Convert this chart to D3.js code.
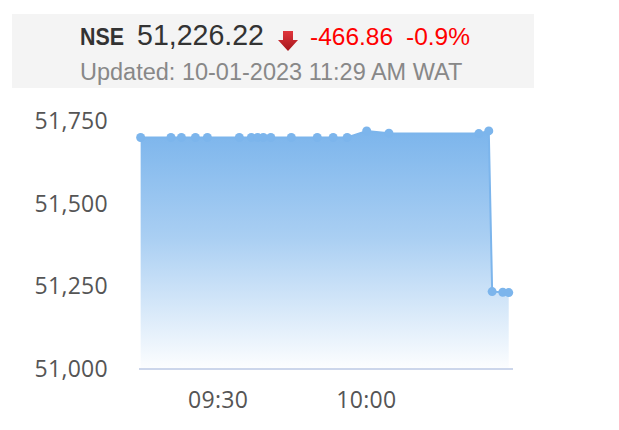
<!DOCTYPE html>
<html>
<head>
<meta charset="utf-8">
<script src="https://cdn.jsdelivr.net/npm/d3@7"></script>
<style>
  body { margin: 0; background: #fff; }
  svg { display: block; }
</style>
</head>
<body>
<div id="chart"></div>
<script>
// intraday NSE values
const times = ["09:14:20", "09:20:28", "09:22:35", "09:25:25", "09:27:50", "09:34:18", "09:36:44",
    "09:38:00", "09:39:09", "09:40:40", "09:44:49", "09:50:04", "09:53:17", "09:56:07",
    "10:00:04", "10:04:34", "10:22:45", "10:24:46", "10:25:27", "10:27:36", "10:28:48"];
const values = [51700, 51700, 51700, 51700, 51700, 51700, 51700,
    51700, 51700, 51700, 51700, 51700, 51700, 51700,
    51720, 51713, 51712, 51720, 51234, 51232, 51231];
const yTicks = [51000, 51250, 51500, 51750];
const xTicks = ["09:30", "10:00"];

const header = {name: "NSE", price: "51,226.22", change: "-466.86", pct: "-0.9%",
    updated: "Updated: 10-01-2023 11:29 AM WAT"};

const width = 619, height = 430;
const parseTime = d3.timeParse("%H:%M:%S");
const parseTick = d3.timeParse("%H:%M");

const data = times.map((t, i) => ({time: parseTime(t), value: values[i]}));

const svg = d3.select("#chart").append("svg")
    .attr("width", width)
    .attr("height", height);

// header panel
svg.append("rect")
    .attr("x", 12).attr("y", 14)
    .attr("width", 522).attr("height", 74)
    .attr("fill", "#f4f4f4");

svg.append("text")
    .attr("x", 80).attr("y", 45)
    .attr("font-family", "Liberation Sans, Arial, sans-serif")
    .attr("font-size", 24).attr("font-weight", "bold")
    .attr("textLength", 44)
    .attr("lengthAdjust", "spacingAndGlyphs")
    .attr("fill", "#333")
    .text(header.name);
svg.append("text")
    .attr("x", 137).attr("y", 45)
    .attr("font-family", "Liberation Sans, Arial, sans-serif")
    .attr("font-size", 29)
    .attr("textLength", 127)
    .attr("lengthAdjust", "spacingAndGlyphs")
    .attr("fill", "#333")
    .text(header.price);

// red down arrow
let grad = svg.append("defs").append("linearGradient")
    .attr("id", "arrowGrad").attr("x1", 0).attr("y1", 0).attr("x2", 0).attr("y2", 1);
grad.append("stop").attr("offset", "0%").attr("stop-color", "#e0363c");
grad.append("stop").attr("offset", "100%").attr("stop-color", "#a5161c");
svg.append("path")
    .attr("d", "M283,31 L293,31 L293,40 L298,40 L288,51 L278,40 L283,40 Z")
    .attr("fill", "url(#arrowGrad)");

svg.append("text")
    .attr("x", 310).attr("y", 45)
    .attr("font-family", "Liberation Sans, Arial, sans-serif")
    .attr("font-size", 24.5)
    .attr("fill", "#f00")
    .text(header.change);
svg.append("text")
    .attr("x", 406).attr("y", 45)
    .attr("font-family", "Liberation Sans, Arial, sans-serif")
    .attr("font-size", 24.5)
    .attr("fill", "#f00")
    .text(header.pct);
svg.append("text")
    .attr("x", 80).attr("y", 80)
    .attr("font-family", "Liberation Sans, Arial, sans-serif")
    .attr("font-size", 23.5)
    .attr("fill", "#888")
    .text(header.updated);

// scales
const x = d3.scaleTime()
    .domain([parseTime("09:14:00"), parseTime("10:29:40")])
    .range([139, 513]);
const y = d3.scaleLinear()
    .domain([51000, 51750])
    .range([369, 121]);

// area gradient
let areaGrad = svg.select("defs").append("linearGradient")
    .attr("id", "areaGrad").attr("x1", 0).attr("y1", 0).attr("x2", 0).attr("y2", 1);
areaGrad.append("stop").attr("offset", "0%").attr("stop-color", "#7cb5ec").attr("stop-opacity", 1);
areaGrad.append("stop").attr("offset", "45%").attr("stop-color", "#7cb5ec").attr("stop-opacity", 0.65);
areaGrad.append("stop").attr("offset", "100%").attr("stop-color", "#7cb5ec").attr("stop-opacity", 0.02);

svg.append("path")
    .datum(data)
    .attr("fill", "url(#areaGrad)")
    .attr("d", d3.area()
        .x(d => x(d.time))
        .y0(y(51000))
        .y1(d => y(d.value)));

svg.append("path")
    .datum(data)
    .attr("fill", "none")
    .attr("stroke", "#7cb5ec")
    .attr("stroke-width", 2)
    .attr("d", d3.line()
        .x(d => x(d.time))
        .y(d => y(d.value)));

svg.selectAll(".dot")
    .data(data)
    .enter().append("circle")
    .attr("class", "dot")
    .attr("cx", d => x(d.time))
    .attr("cy", d => y(d.value))
    .attr("r", 4.5)
    .attr("fill", "#7cb5ec");

// x axis line
svg.append("line")
    .attr("x1", 139).attr("x2", 513)
    .attr("y1", y(51000)).attr("y2", y(51000))
    .attr("stroke", "#ccd6eb")
    .attr("stroke-width", 2);

// tick labels
svg.selectAll(".ylab")
    .data(yTicks)
    .enter().append("text")
    .attr("class", "ylab")
    .attr("x", 108)
    .attr("y", d => y(d) + 8)
    .attr("text-anchor", "end")
    .attr("font-family", "Open Sans, sans-serif")
    .attr("font-size", 23)
    .attr("letter-spacing", 0.3)
    .attr("fill", "#555")
    .text(d3.format(","));

svg.selectAll(".xlab")
    .data(xTicks)
    .enter().append("text")
    .attr("class", "xlab")
    .attr("x", d => x(parseTick(d)))
    .attr("y", 408)
    .attr("text-anchor", "middle")
    .attr("font-family", "Open Sans, sans-serif")
    .attr("font-size", 23)
    .attr("letter-spacing", 0.3)
    .attr("fill", "#555")
    .text(d => d);
</script>
</body>
</html>
